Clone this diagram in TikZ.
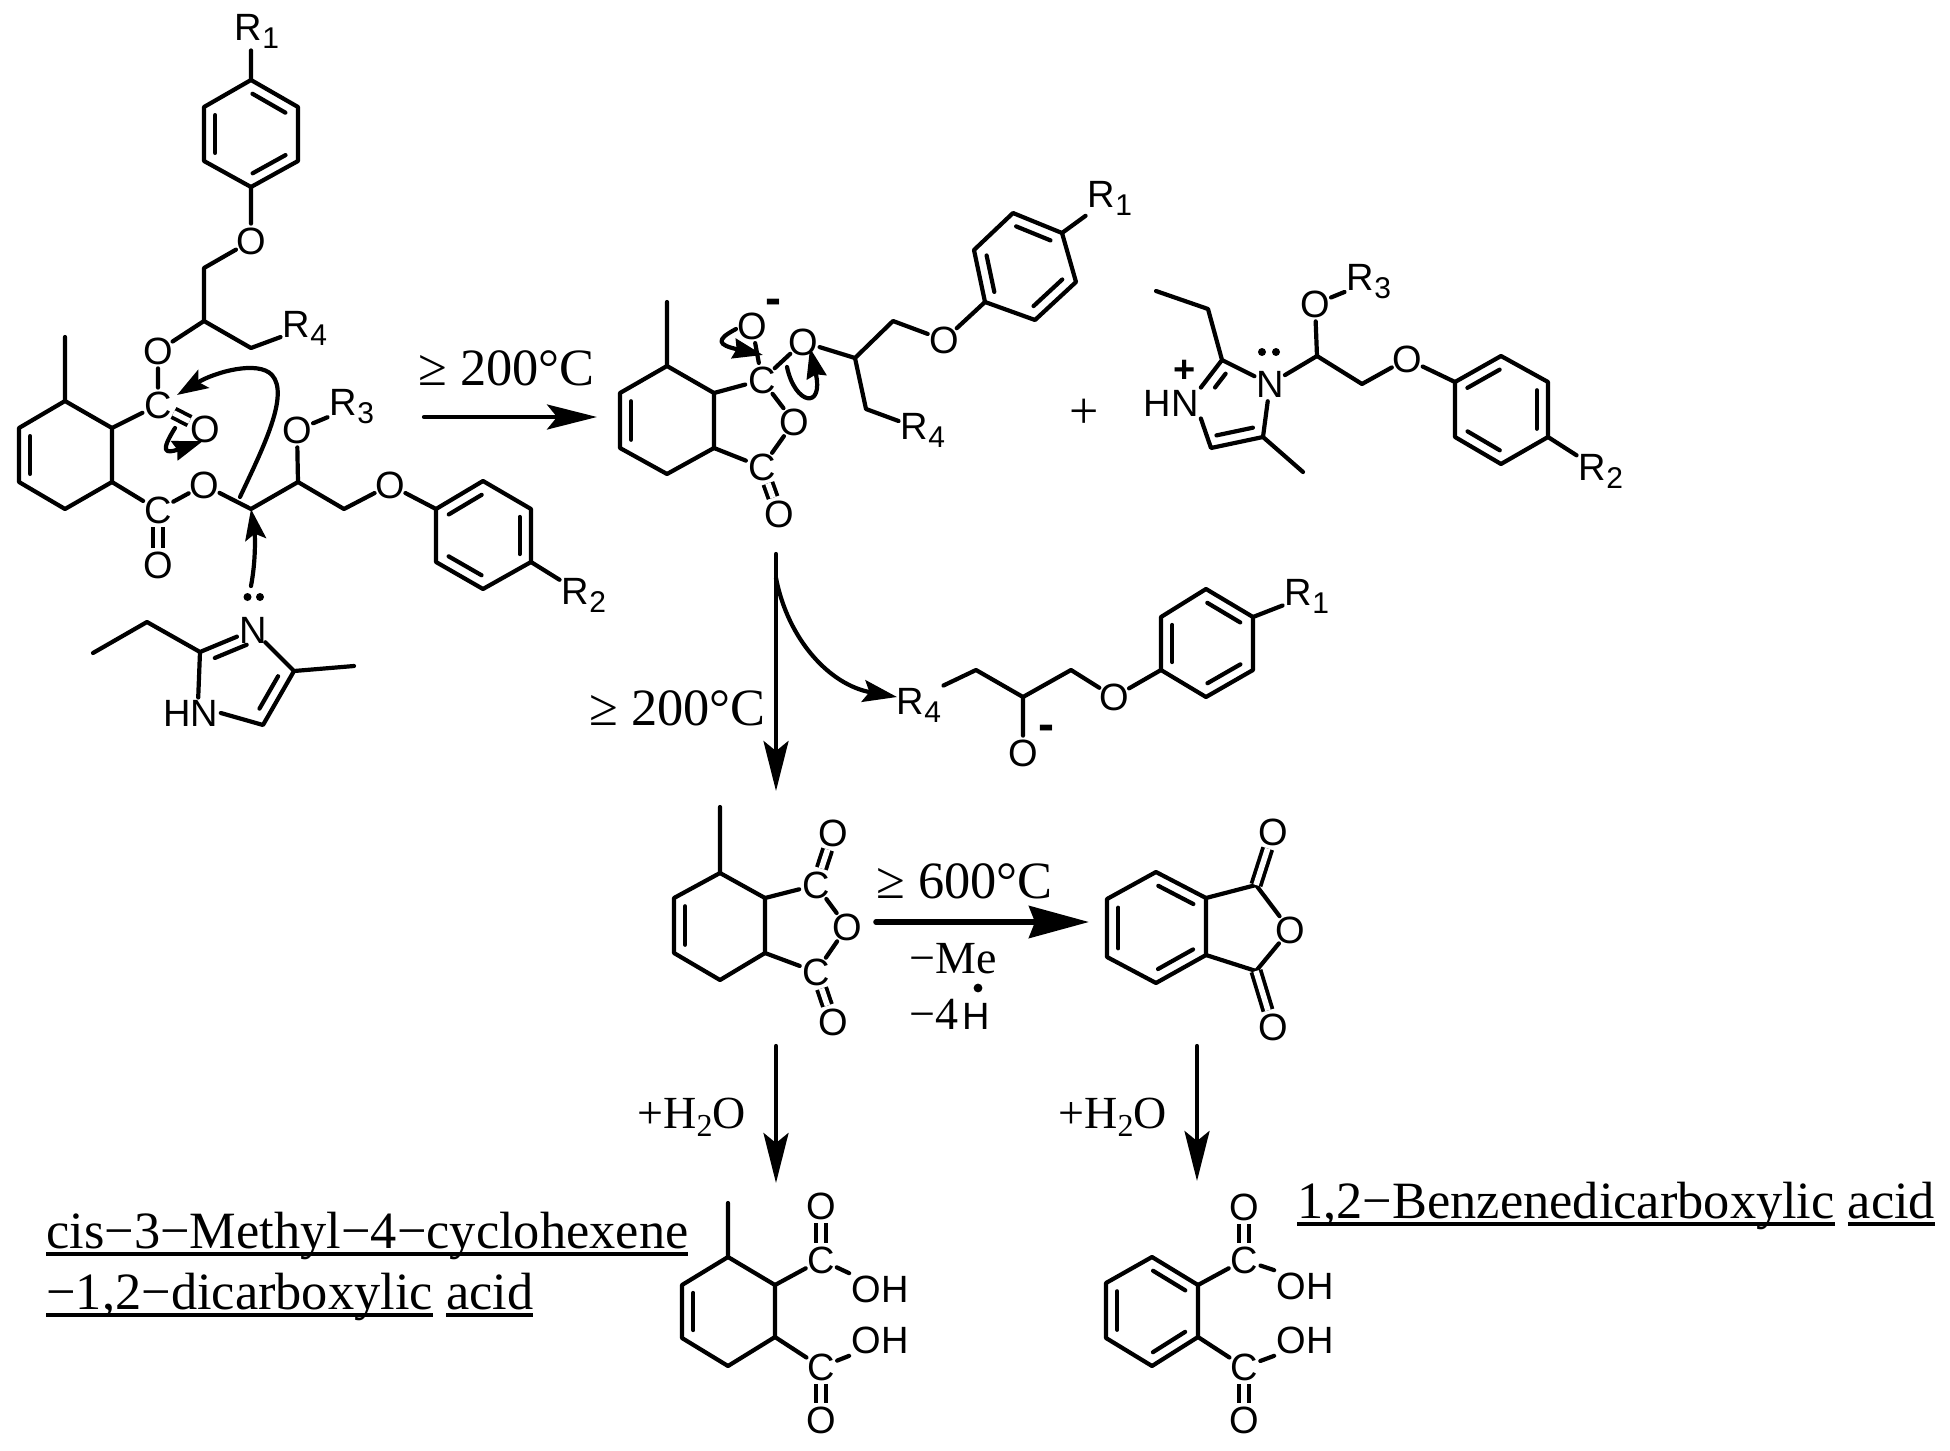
\documentclass[tikz,border=0pt]{standalone}
\usepackage{fontspec}
\setmainfont{Liberation Serif}
\newfontfamily\atomfont{Liberation Sans}
\usetikzlibrary{arrows.meta,calc}
\newcommand{\rsub}[1]{R\raisebox{-4pt}{\fontsize{15}{15}\selectfont #1}}
\newcommand{\ulword}[1]{\setbox0=\hbox{#1}\rlap{\rule[-4pt]{\wd0}{2pt}}\box0\relax}
\newcommand{\inbond}[3][.15]{\draw[bond] ($(#2)!#1!(#3)!5.6pt!-90:(#3)$) -- ($(#3)!#1!(#2)!5.6pt!90:(#2)$);}
\tikzset{
 bond/.style={line width=2.1pt},
 dbl/.style={double, line width=1.9pt, double distance=2.8pt, line cap=butt},
 atom/.style={circle, minimum size=17pt, inner sep=-3pt, font=\atomfont\fontsize{19}{20}\selectfont},
 lab/.style={inner sep=1pt, font=\atomfont\fontsize{19}{20}\selectfont},
 chg/.style={inner sep=0pt, font=\atomfont\bfseries\fontsize{24}{24}\selectfont},
 temp/.style={anchor=base west, inner sep=0pt, font=\fontsize{26.2}{28}\selectfont},
 cond/.style={anchor=base west, inner sep=0pt, font=\fontsize{23}{24}\selectfont},
 rxn/.style={line width=2.1pt, -{Stealth[length=25pt,width=12.5pt,inset=5pt]}},
 push/.style={line width=2.1pt, -{Stealth[length=15.5pt,width=10.5pt,inset=3pt]}},
 hook/.style={line width=2.1pt, -{Stealth[length=15pt,width=10pt,inset=1.5pt]}},
}
\begin{document}
\begin{tikzpicture}[x=.5pt, y=-.5pt, line join=round, line cap=round]
 \useasboundingbox (0,0) rectangle (1950,1451);

 % ester with imidazole
 \foreach \n/\p in {pa1/{251,80},pa2/{298,107},pa3/{298,161},pa4/{251,187},pa5/{204,161},pa6/{204,107},
   ca1/{204,268},ca2/{204,321},ca3/{251,348},ra1/{112,428},ra2/{112,482},ra3/{65,509},ra4/{19,482},ra5/{19,428},ra6/{65,401},
   ma1/{65,337},ca4/{251,509},ca5/{298,482},ca6/{344,509},
   qa1/{436,509},qa2/{483,481},qa3/{531,509},qa4/{531,562},qa5/{483,589},qa6/{436,562},
   ia1/{200,652},ia2/{263,725},ia3/{294,671},ia4/{354,666},ia5/{147,622},ia6/{93,653}}
   \coordinate (\n) at (\p);
 \node[lab] (r1a) at (257,31) {\rsub{1}};
 \node[atom] (oa1) at (251,241) {O};
 \node[lab] (r4a) at (305,328) {\rsub{4}};
 \node[atom] (oa2) at (158,351) {O};
 \node[atom] (cc1) at (158,405) {C};
 \node[atom] (oa3) at (205,429) {O};
 \node[atom] (cc2) at (158,510) {C};
 \node[atom] (oa4) at (158,565) {O};
 \node[atom] (oa5) at (204,485) {O};
 \node[atom] (oa6) at (297,430) {O};
 \node[lab] (r3a) at (352,407) {\rsub{3}};
 \node[atom] (oa7) at (390,485) {O};
 \node[lab] (r2a) at (584,595) {\rsub{2}};
 \node[atom] (na1) at (253,630) {N};
 \node[lab] (hna) at (191,713) {HN};
 \draw[bond] (pa1)--(pa2)--(pa3)--(pa4)--(pa5)--(pa6)--cycle;
 \inbond{pa1}{pa2} \inbond{pa3}{pa4} \inbond{pa5}{pa6}
 \draw[bond] (pa1) -- (pa1 |- r1a.south) (pa4) -- (oa1) -- (ca1) -- (ca2) -- (ca3) -- (r4a) (ca2) -- (oa2) -- (cc1) -- (ra1);
 \draw[dbl] (cc1) -- (oa3);
 \draw[bond] (ra1)--(ra2)--(ra3)--(ra4)--(ra5)--(ra6)--cycle;
 \inbond{ra4}{ra5}
 \draw[bond] (ra6) -- (ma1) (ra2) -- (cc2) -- (oa5) -- (ca4) -- (ca5) -- (oa6) -- (r3a) (ca5) -- (ca6) -- (oa7) -- (qa1);
 \draw[dbl] (cc2) -- (oa4);
 \draw[bond] (qa1)--(qa2)--(qa3)--(qa4)--(qa5)--(qa6)--cycle;
 \inbond{qa1}{qa2} \inbond{qa3}{qa4} \inbond{qa5}{qa6}
 \draw[bond] (qa4) -- (r2a);
 \draw[bond] (ia6) -- (ia5) -- (ia1) -- (na1) -- (ia3) -- (ia2) -- (hna.east) (ia3) -- (ia4) (ia1) -- (hna.65);
 \inbond[.2]{ia1}{na1} \inbond[.2]{ia3}{ia2}
 \fill (247.5,597) circle (2pt) (260,597) circle (2pt);
 \coordinate (sa1) at (240,497);
 \coordinate (ta1) at (177,395);
 \draw[push] (sa1) .. controls (262,450) and (290,395) .. (272,375) .. controls (258,360) and (215,372) .. (ta1);
 \coordinate (sa2) at (175,428);
 \coordinate (ta2) at (203,441);
 \draw[hook] (sa2) .. controls (160,452) and (165,454) .. (ta2);
 \coordinate (sa3) at (251,586);
 \draw[push] (sa3) .. controls (256,560) and (255,535) .. (ca4);

 % first step
 \coordinate (s1) at (424,417);
 \coordinate (t1) at (597,417);
 \draw[rxn] (s1) -- (t1);
 \node[temp] (tp1) at (418,385) {≥ 200°C};

 % anhydride anion
 \foreach \n/\p in {mb1/{667,302},rb1/{667,366},rb2/{714,393},rb3/{714,448},rb4/{667,474},rb5/{620,448},rb6/{620,393},
   cb1/{855,358},cb2/{893,321},cb3/{866,409},
   pb1/{985,302},pb2/{974,250},pb3/{1013,213},pb4/{1062,233},pb5/{1076,282},pb6/{1035,320}}
   \coordinate (\n) at (\p);
 \node[atom] (cb4) at (762,380) {C};
 \node[atom] (ob1) at (752,326) {O};
 \node[chg] (mn1) at (773,307) {-};
 \node[atom] (ob2) at (803,342) {O};
 \node[atom] (ob3) at (794,422) {O};
 \node[atom] (cb5) at (762,467) {C};
 \node[atom] (ob4) at (779,514) {O};
 \node[atom] (ob5) at (944,340) {O};
 \node[lab] (r1b) at (1110,198) {\rsub{1}};
 \node[lab] (r4b) at (923,430) {\rsub{4}};
 \draw[bond] (rb1)--(rb2)--(rb3)--(rb4)--(rb5)--(rb6)--cycle;
 \inbond{rb5}{rb6}
 \draw[bond] (rb1) -- (mb1) (rb2) -- (cb4) -- (ob1) (cb4) -- (ob2) -- (cb1) -- (cb2) -- (ob5) -- (pb1) (cb1) -- (cb3) -- (r4b);
 \draw[bond] (cb4) -- (ob3) -- (cb5) -- (rb3);
 \draw[dbl] (cb5) -- (ob4);
 \draw[bond] (pb1)--(pb2)--(pb3)--(pb4)--(pb5)--(pb6)--cycle;
 \inbond{pb3}{pb4} \inbond{pb5}{pb6} \inbond{pb1}{pb2}
 \draw[bond] (pb4) -- (r1b);
 \coordinate (sb1) at (736,329);
 \coordinate (tb1) at (763,355);
 \draw[hook] (sb1) .. controls (715,340) and (718,345) .. (tb1);
 \coordinate (sb2) at (787,367);
 \coordinate (tb2) at (810,348);
 \draw[hook] (sb2) .. controls (795,405) and (824,410) .. (tb2);

 \node[inner sep=0pt, font=\fontsize{26}{28}\selectfont] (pls) at (1084,414) {+};

 % imidazolium
 \foreach \n/\p in {ib1/{1156,291},ib2/{1208,309},ib3/{1222,360},ib4/{1263,437},ib5/{1211,448},ib6/{1303,472},
   cd1/{1317,356},cd2/{1362,384},
   qb1/{1455,382},qb2/{1501,356},qb3/{1548,382},qb4/{1548,437},qb5/{1501,464},qb6/{1455,437}}
   \coordinate (\n) at (\p);
 \node[atom] (nb1) at (1270,384) {N};
 \node[lab] (hnb) at (1171,403) {HN};
 \node[chg, font=\atomfont\bfseries\fontsize{19}{19}\selectfont] (pl1) at (1185,371) {+};
 \node[atom] (ob6) at (1315,304) {O};
 \node[lab] (r3b) at (1369,282) {\rsub{3}};
 \node[atom] (ob7) at (1407,359) {O};
 \node[lab] (r2b) at (1601,471) {\rsub{2}};
 \draw[bond] (ib1) -- (ib2) -- (ib3) -- (nb1) -- (ib4) -- (ib5) -- (hnb.south east) (hnb.north east) -- (ib3) (ib4) -- (ib6);
 \inbond[.25]{hnb.north east}{ib3} \inbond{ib4}{ib5}
 \draw[bond] (nb1) -- (cd1) -- (ob6) -- (r3b) (cd1) -- (cd2) -- (ob7) -- (qb1);
 \draw[bond] (qb1)--(qb2)--(qb3)--(qb4)--(qb5)--(qb6)--cycle;
 \inbond{qb1}{qb2} \inbond{qb3}{qb4} \inbond{qb5}{qb6}
 \draw[bond] (qb4) -- (r2b);
 \fill (1262,352) circle (2pt) (1276,352) circle (2pt);

 % second step
 \coordinate (s2) at (776,554);
 \coordinate (t2) at (776,791);
 \draw[rxn] (s2) -- (t2);
 \node[temp] (tp2) at (589,725) {≥ 200°C};
 \coordinate (s3) at (776,578);
 \coordinate (t3) at (897,697);
 \draw[line width=2.1pt, -{Stealth[length=17pt,width=11pt,inset=3pt]}] (s3) .. controls (788,640) and (830,685) .. (t3);

 % alkoxide
 \foreach \n/\p in {cf1/{976,670},cf2/{1023,697},cf3/{1071,670},
   pf1/{1161,670},pf2/{1161,617},pf3/{1206,589},pf4/{1253,617},pf5/{1253,670},pf6/{1206,697}}
   \coordinate (\n) at (\p);
 \node[lab] (r4f) at (919,705) {\rsub{4}};
 \node[atom] (of1) at (1023,753) {O};
 \node[chg] (mn2) at (1046,733) {-};
 \node[atom] (of2) at (1114,697) {O};
 \node[lab] (r1f) at (1307,596) {\rsub{1}};
 \draw[bond] (r4f.north east) -- (cf1) -- (cf2) -- (cf3) -- (of2) -- (pf1) (cf2) -- (of1);
 \draw[bond] (pf1)--(pf2)--(pf3)--(pf4)--(pf5)--(pf6)--cycle;
 \inbond{pf1}{pf2} \inbond{pf3}{pf4} \inbond{pf5}{pf6}
 \draw[bond] (pf4) -- (r1f);

 % methyl anhydride
 \foreach \n/\p in {mc1/{720,807},rc1/{720,873},rc2/{765,898},rc3/{765,953},rc4/{720,980},rc5/{674,953},rc6/{674,898}}
   \coordinate (\n) at (\p);
 \node[atom] (cc3) at (816,885) {C};
 \node[atom] (oc1) at (833,833) {O};
 \node[atom] (cc4) at (816,972) {C};
 \node[atom] (oc2) at (833,1022) {O};
 \node[atom] (oc3) at (847,927) {O};
 \draw[bond] (rc1)--(rc2)--(rc3)--(rc4)--(rc5)--(rc6)--cycle;
 \inbond{rc5}{rc6}
 \draw[bond] (rc1) -- (mc1) (rc2) -- (cc3) -- (oc3) -- (cc4) -- (rc3);
 \draw[dbl] (cc3) -- (oc1);
 \draw[dbl] (cc4) -- (oc2);

 % third step
 \coordinate (s4) at (876,922);
 \coordinate (t4) at (1089,922);
 \draw[line width=2.8pt, -{Stealth[length=30pt,width=16pt,inset=3pt]}] (s4) -- (t4);
 \node[temp] (tp3) at (876,898) {≥ 600°C};
 \node[cond] (lo1) at (909,973) {−Me};
 \node[cond] (lo2) at (909,1029) {−4\hspace{2pt}{\atomfont\fontsize{19}{20}\selectfont H}};
 \fill (978,988) circle (2.2pt);

 % phthalic anhydride
 \foreach \n/\p in {rd1/{1156,872},rd2/{1206,898},rd3/{1206,955},rd4/{1156,983},rd5/{1107,957},rd6/{1107,899},
   cd3/{1256,885},cd4/{1256,971}}
   \coordinate (\n) at (\p);
 \node[atom] (od1) at (1273,832) {O};
 \node[atom] (od2) at (1290,930) {O};
 \node[atom] (od3) at (1273,1027) {O};
 \draw[bond] (rd1)--(rd2)--(rd3)--(rd4)--(rd5)--(rd6)--cycle;
 \inbond{rd1}{rd2} \inbond{rd3}{rd4} \inbond{rd5}{rd6}
 \draw[bond] (rd2) -- (cd3) -- (od2) -- (cd4) -- (rd3);
 \draw[dbl] (cd3) -- (od1);
 \draw[dbl] (cd4) -- (od3);

 % hydrolysis
 \coordinate (s5) at (776,1046);
 \coordinate (t5) at (776,1183);
 \draw[rxn] (s5) -- (t5);
 \node[cond] (wa1) at (637,1128) {+H\raisebox{-4pt}{\fontsize{16}{16}\selectfont 2}O};
 \coordinate (s6) at (1197,1046);
 \coordinate (t6) at (1197,1181);
 \draw[rxn] (s6) -- (t6);
 \node[cond] (wa2) at (1058,1128) {+H\raisebox{-4pt}{\fontsize{16}{16}\selectfont 2}O};

 % diacid from methyl anhydride
 \foreach \n/\p in {me1/{728,1203},re1/{728,1257},re2/{775,1285},re3/{775,1337},re4/{728,1366},re5/{682,1338},re6/{682,1285}}
   \coordinate (\n) at (\p);
 \node[atom] (ce1) at (821,1260) {C};
 \node[atom] (oe1) at (821,1206) {O};
 \node[lab] (he1) at (880,1289) {OH};
 \node[lab] (he2) at (880,1340) {OH};
 \node[atom] (ce2) at (821,1367) {C};
 \node[atom] (oe2) at (821,1420) {O};
 \draw[bond] (re1)--(re2)--(re3)--(re4)--(re5)--(re6)--cycle;
 \inbond{re5}{re6}
 \draw[bond] (re1) -- (me1) (re2) -- (ce1) -- (he1.north west) (re3) -- (ce2) -- (he2.south west);
 \draw[dbl] (ce1) -- (oe1);
 \draw[dbl] (ce2) -- (oe2);
 \node[temp] (na1t) at (46,1248) {\ulword{cis−3−Methyl−4−cyclohexene}};
 \node[temp] (na2t) at (46,1309) {\ulword{−1,2−dicarboxylic} \ulword{acid}};

 % diacid from phthalic anhydride
 \foreach \n/\p in {rf1/{1152,1257},rf2/{1198,1285},rf3/{1198,1337},rf4/{1152,1366},rf5/{1106,1338},rf6/{1106,1283}}
   \coordinate (\n) at (\p);
 \node[atom] (cf4) at (1244,1260) {C};
 \node[atom] (of3) at (1244,1207) {O};
 \node[lab] (hf1) at (1305,1286) {OH};
 \node[lab] (hf2) at (1305,1340) {OH};
 \node[atom] (cf5) at (1244,1367) {C};
 \node[atom] (of4) at (1244,1420) {O};
 \draw[bond] (rf1)--(rf2)--(rf3)--(rf4)--(rf5)--(rf6)--cycle;
 \inbond{rf1}{rf2} \inbond{rf3}{rf4} \inbond{rf5}{rf6}
 \draw[bond] (rf2) -- (cf4) -- (hf1.north west) (rf3) -- (cf5) -- (hf2.south west);
 \draw[dbl] (cf4) -- (of3);
 \draw[dbl] (cf5) -- (of4);
 \node[temp] (na3t) at (1297,1218) {\ulword{1,2−Benzenedicarboxylic} \ulword{acid}};
\end{tikzpicture}
\end{document}
